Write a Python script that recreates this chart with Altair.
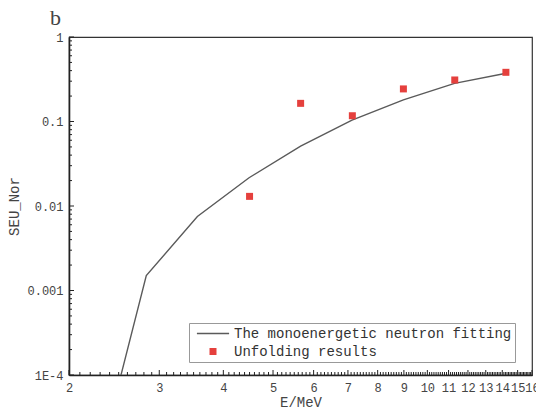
import altair as alt
import pandas as pd

# ---- data ----
E_fit = [2.245, 2.83, 3.56, 4.49, 5.66, 7.13, 8.98, 11.3, 14.25]
SEU_fit = [6e-6, 0.0015, 0.0075, 0.0216, 0.051, 0.104, 0.18, 0.283, 0.372]

E_unf = [4.50, 5.66, 7.14, 8.98, 11.31, 14.23]
SEU_unf = [0.0130, 0.164, 0.117, 0.243, 0.310, 0.382]

series_names = ["The monoenergetic neutron fitting", "Unfolding results"]
x_tick_values = list(range(2, 17))
y_tick_values = [0.0001, 0.001, 0.01, 0.1, 1]
y_tick_labels = ["1E-4", "0.001", "0.01", "0.1", "1"]

x_minor = [round(v / 10, 1) for v in range(20, 161) if v % 10 != 0]
y_minor = [m * d for d in [0.0001, 0.001, 0.01, 0.1] for m in range(2, 10)]

W, H = 463, 338
LINE_COL = "#5a5a5a"
RED = "#e5403d"
MONO = "Liberation Mono"

fit_df = pd.DataFrame({"E": E_fit, "SEU": SEU_fit})
unf_df = pd.DataFrame({"E": E_unf, "SEU": SEU_unf, "series": series_names[1]})

xscale = alt.Scale(type="log", domain=[2, 16], nice=False)
yscale = alt.Scale(type="log", domain=[1e-4, 1], nice=False)

label_expr = " : ".join(
    f"abs(datum.value - {v}) < {v/10} ? '{l}'" for v, l in zip(y_tick_values, y_tick_labels)
) + " : ''"

xaxis = alt.Axis(values=x_tick_values, format="d", title="E/MeV", labelOverlap=False,
                 labelBound=False, labelFlush=False, labelPadding=7, titlePadding=2)
yaxis = alt.Axis(values=y_tick_values, labelExpr=label_expr, title="SEU_Nor",
                 labelOverlap=False, labelPadding=6, titlePadding=5, labelFlush=False)

line = alt.Chart(fit_df).mark_line(clip=True, color=LINE_COL, strokeWidth=1.4).encode(
    x=alt.X("E:Q", scale=xscale, axis=xaxis),
    y=alt.Y("SEU:Q", scale=yscale, axis=yaxis),
)

line_path = "M-4.6,-0.19H4.6V0.19H-4.6Z"
pts = alt.Chart(unf_df).mark_point(filled=True, size=49, opacity=1).encode(
    x=alt.X("E:Q", scale=xscale),
    y=alt.Y("SEU:Q", scale=yscale),
    color=alt.Color("series:N", scale=alt.Scale(domain=series_names, range=[LINE_COL, RED]),
                    legend=alt.Legend(title=None, orient="none", legendX=120, legendY=286)),
    shape=alt.Shape("series:N", scale=alt.Scale(domain=series_names, range=[line_path, "square"]),
                    legend=alt.Legend(title=None, orient="none", legendX=120, legendY=286)),
)

# inward tick marks
xmaj = alt.Chart(pd.DataFrame({"t": x_tick_values})).mark_rule(color="#222", strokeWidth=1).encode(
    x=alt.X("t:Q", scale=xscale), y=alt.value(H), y2=alt.value(H - 5))
xmin = alt.Chart(pd.DataFrame({"t": x_minor})).mark_rule(color="#222", strokeWidth=1).encode(
    x=alt.X("t:Q", scale=xscale), y=alt.value(H), y2=alt.value(H - 3))
ymaj = alt.Chart(pd.DataFrame({"t": y_tick_values})).mark_rule(color="#222", strokeWidth=1).encode(
    y=alt.Y("t:Q", scale=yscale), x=alt.value(0), x2=alt.value(5))
ymin = alt.Chart(pd.DataFrame({"t": y_minor})).mark_rule(color="#222", strokeWidth=1).encode(
    y=alt.Y("t:Q", scale=yscale), x=alt.value(0), x2=alt.value(3))

chart = alt.layer(xmin, xmaj, ymin, ymaj, line, pts).properties(
    width=W, height=H,
    autosize=alt.AutoSizeParams(type="none"),
    padding={"left": 69, "top": 37, "right": 4, "bottom": 42},
    title=alt.TitleParams("b", anchor="start", frame="group", dx=-19, offset=1,
                          fontSize=22, font="Liberation Serif", fontWeight="normal", color="#444"),
).configure_view(
    stroke="#333", strokeWidth=1.2
).configure_axis(
    ticks=False, grid=False, domainColor="#222", domainWidth=1.6,
    labelFont=MONO, labelFontSize=12, labelColor="#444",
    titleFont=MONO, titleFontSize=14, titleFontWeight="normal", titleColor="#444",
).configure_legend(
    strokeColor="#999", fillColor="white", padding=3.5, labelFont=MONO, labelFontSize=14,
    labelColor="#333", rowPadding=4, symbolSize=49, symbolOffset=13.5, labelOffset=14,
    symbolStrokeWidth=0, labelLimit=400,
)

chart.save("out.html", embed_options={"renderer": "svg", "actions": False})
